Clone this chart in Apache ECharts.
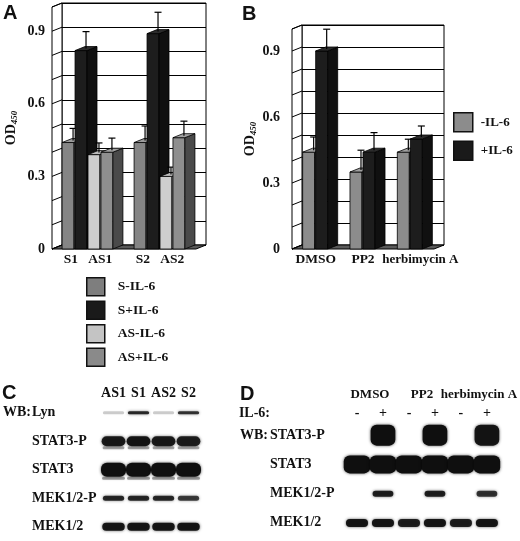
<!DOCTYPE html>
<html><head><meta charset="utf-8">
<script src="https://cdn.jsdelivr.net/npm/echarts@6/dist/echarts.min.js"></script>
<style>html,body{margin:0;padding:0;background:#fff}#c{width:520px;height:541px}</style>
</head><body><div id="c"></div>
<script>
// ---------- Panel A data ----------
const groupsA = ['1', '2'];
const groupLabelsA = [['S1', 'AS1'], ['S2', 'AS2']];
const seriesNamesA = ['S-IL-6', 'S+IL-6', 'AS-IL-6', 'AS+IL-6'];
const sMinusA = [0.44, 0.44];
const sPlusA = [0.82, 0.89];
const asMinusA = [0.39, 0.30];
const asPlusA = [0.40, 0.46];
const sMinusErrA = [0.05, 0.06];
const sPlusErrA = [0.07, 0.08];
const asMinusErrA = [0.04, 0.03];
const asPlusErrA = [0.05, 0.06];
const yTickLabels = [0, 0.3, 0.6, 0.9];
const wallTicks = [0, 0.1, 0.2, 0.3, 0.4, 0.5, 0.6, 0.7, 0.8, 0.9, 1.0];

// ---------- Panel B data ----------
const treatmentsB = ['DMSO', 'PP2', 'herbimycin A'];
const seriesNamesB = ['-IL-6', '+IL-6'];
const minusB = [0.44, 0.35, 0.44];
const plusB = [0.90, 0.44, 0.50];
const minusErrB = [0.06, 0.09, 0.05];
const plusErrB = [0.09, 0.08, 0.05];

// ---------- Panel C data (band intensity 0..1) ----------
const lanesC = ['AS1', 'S1', 'AS2', 'S2'];
const rowsC = ['Lyn', 'STAT3-P', 'STAT3', 'MEK1/2-P', 'MEK1/2'];
const lynC = [0.2, 0.85, 0.2, 0.8];
const stat3pC = [0.92, 0.95, 0.92, 0.9];
const stat3C = [1, 1, 1, 1];
const mekpC = [0.85, 0.85, 0.85, 0.75];
const mekC = [0.95, 0.95, 0.95, 0.95];

// ---------- Panel D data ----------
const treatmentsD = ['DMSO', 'PP2', 'herbimycin A'];
const il6SignsD = ['-', '+', '-', '+', '-', '+'];
const rowsD = ['STAT3-P', 'STAT3', 'MEK1/2-P', 'MEK1/2'];
const stat3pD = [0, 1, 0, 1, 0, 0.95];
const stat3D = [1, 1, 1, 1, 1, 1];
const mekpD = [0, 0.9, 0, 0.9, 0, 0.8];
const mekD = [0.95, 0.95, 0.9, 0.95, 0.9, 0.95];

// ---------- styles ----------
const SERIF = 'Liberation Serif', SANS = 'Liberation Sans';
const DX = 10, DY = 4;
const T = (size, extra) => Object.assign({fontFamily: SERIF, fontWeight: 'bold', fontSize: size, color: '#111'}, extra || {});
const colorsA = [
  {front: '#858585', side: '#555555', top: '#9c9c9c', legend: '#7e7e7e'},
  {front: '#1d1d1d', side: '#101010', top: '#2c2c2c', legend: '#1a1a1a'},
  {front: '#cecece', side: '#9a9a9a', top: '#bcbcbc', legend: '#c4c4c4'},
  {front: '#8f8f8f', side: '#4a4a4a', top: '#a2a2a2', legend: '#8a8a8a'}
];
const colorsB = [
  {front: '#8c8c8c', side: '#555555', top: '#a0a0a0', legend: '#8c8c8c'},
  {front: '#1d1d1d', side: '#101010', top: '#2c2c2c', legend: '#1a1a1a'}
];
const bandStyleC = {h: [3, 10, 14, 5, 8], w: [0.85, 0.95, 1.0, 0.85, 0.9], sub: [0, 1, 1, 0, 0]};
const bandStyleD = {h: [21, 18, 6, 8], w: [0.95, 1.02, 0.8, 0.85], sub: [0, 0, 0, 0]};

function wallRender(params, api) {
  const cs = params.coordSys;
  const y = api.coord([0, api.value(1)])[1];
  const x0 = cs.x;
  const ch = [];
  if (params.dataIndex === 0) {
    const yt = cs.y, yb = cs.y + cs.height, xr = cs.x + cs.width;
    ch.push({type: 'polygon', shape: {points: [[x0, yt], [x0 + DX, yt - DY], [x0 + DX, yb - DY], [x0, yb]]},
      style: {fill: '#fff', stroke: '#000', lineWidth: 1}});
    ch.push({type: 'polygon', shape: {points: [[x0, yb], [xr, yb], [xr + DX, yb - DY], [x0 + DX, yb - DY]]},
      style: {fill: '#5a5a5a', stroke: '#000', lineWidth: 1}});
  }
  ch.push({type: 'line', shape: {x1: x0, y1: y, x2: x0 + DX, y2: y - DY}, style: {stroke: '#000', lineWidth: 1}});
  return {type: 'group', children: ch};
}

function barRender(k, n, slotFrac, col) {
  return function (params, api) {
    const cat = api.value(0), val = api.value(1), err = api.value(2);
    const base = api.coord([cat, 0]);
    const top = api.coord([cat, val]);
    const ey = api.coord([cat, val + err])[1] - DY / 2;
    const band = api.size([1, 0])[0];
    const slot = band * slotFrac;
    const w = slot - 1;
    const x = base[0] - n * slot / 2 + k * slot;
    const y0 = base[1], y1 = top[1];
    const cx = x + w / 2 + DX / 2, cy = y1 - DY / 2;
    const st = {stroke: '#000', lineWidth: 0.8};
    return {type: 'group', children: [
      {type: 'rect', shape: {x: x, y: y1, width: w, height: y0 - y1}, style: Object.assign({fill: col.front}, st)},
      {type: 'polygon', shape: {points: [[x + w, y1], [x + w + DX, y1 - DY], [x + w + DX, y0 - DY], [x + w, y0]]}, style: Object.assign({fill: col.side}, st)},
      {type: 'polygon', shape: {points: [[x, y1], [x + DX, y1 - DY], [x + w + DX, y1 - DY], [x + w, y1]]}, style: Object.assign({fill: col.top}, st)},
      {type: 'line', shape: {x1: cx, y1: cy, x2: cx, y2: ey}, style: {stroke: '#000', lineWidth: 1.2}},
      {type: 'line', shape: {x1: cx - 3.5, y1: ey, x2: cx + 3.5, y2: ey}, style: {stroke: '#000', lineWidth: 1.2}}
    ]};
  };
}

function bandRender(bs) {
  return function (params, api) {
    const lane = api.value(0), row = api.value(1), a = api.value(2);
    if (!(a > 0)) return null;
    const c = api.coord([lane, row]);
    const bw = api.size([1, 0])[0] * bs.w[row];
    const h = bs.h[row];
    const ch = [{
      type: 'rect',
      shape: {x: c[0] - bw / 2, y: c[1] - h / 2, width: bw, height: h, r: Math.min(h / 2, 6)},
      style: {fill: 'rgba(15,15,15,' + a + ')', shadowBlur: 3, shadowColor: 'rgba(0,0,0,' + (a * 0.7) + ')'}
    }];
    if (bs.sub[row]) {
      ch.push({type: 'rect', shape: {x: c[0] - bw / 2 + 1, y: c[1] + h / 2, width: bw - 2, height: 3, r: 1.5},
        style: {fill: 'rgba(60,60,60,' + (a * 0.45) + ')', shadowBlur: 2, shadowColor: 'rgba(0,0,0,0.3)'}});
    }
    return {type: 'group', children: ch};
  };
}

// ---------- build series ----------
const valsA = [sMinusA, sPlusA, asMinusA, asPlusA];
const errsA = [sMinusErrA, sPlusErrA, asMinusErrA, asPlusErrA];
const valsB = [minusB, plusB];
const errsB = [minusErrB, plusErrB];

const series = [];
series.push({type: 'custom', xAxisIndex: 0, yAxisIndex: 0, renderItem: wallRender, silent: true,
  data: wallTicks.map(v => [0, v]), encode: {x: 0, y: 1}});
seriesNamesA.forEach((name, k) => {
  series.push({type: 'custom', name: name, xAxisIndex: 0, yAxisIndex: 0,
    renderItem: barRender(k, 4, 0.18, colorsA[k]), itemStyle: {color: colorsA[k].legend},
    data: valsA[k].map((v, i) => [i, v, errsA[k][i]]), encode: {x: 0, y: 1}});
});
series.push({type: 'custom', xAxisIndex: 2, yAxisIndex: 2, renderItem: wallRender, silent: true,
  data: wallTicks.map(v => [0, v]), encode: {x: 0, y: 1}});
seriesNamesB.forEach((name, k) => {
  series.push({type: 'custom', name: name, xAxisIndex: 2, yAxisIndex: 2,
    renderItem: barRender(k, 2, 0.275, colorsB[k]), itemStyle: {color: colorsB[k].legend},
    data: valsB[k].map((v, i) => [i, v, errsB[k][i]]), encode: {x: 0, y: 1}});
});
const rowValsC = [lynC, stat3pC, stat3C, mekpC, mekC];
const bandsC = [];
rowValsC.forEach((arr, r) => arr.forEach((a, l) => bandsC.push([l, r, a])));
series.push({type: 'custom', xAxisIndex: 4, yAxisIndex: 4, renderItem: bandRender(bandStyleC), data: bandsC, encode: {x: 0, y: 1}});
const rowValsD = [stat3pD, stat3D, mekpD, mekD];
const bandsD = [];
rowValsD.forEach((arr, r) => arr.forEach((a, l) => bandsD.push([l, r, a])));
series.push({type: 'custom', xAxisIndex: 5, yAxisIndex: 5, renderItem: bandRender(bandStyleD), data: bandsD, encode: {x: 0, y: 1}});

const odName = {
  name: '{a|OD}{b|450}', nameLocation: 'middle', nameRotate: 90, nameGap: 33,
  nameTextStyle: {rich: {
    a: T(14, {lineHeight: 16}),
    b: T(9, {fontStyle: 'italic', verticalAlign: 'bottom', lineHeight: 10})
  }}
};
const tickFmt = v => yTickLabels.some(t => Math.abs(t - v) < 1e-6) ? (v === 0 ? '0' : v.toFixed(1)) : '';
const frontY = (gi, margin, shift) => Object.assign({
  gridIndex: gi, type: 'value', min: 0, max: 1, interval: 0.1,
  axisLine: {show: true, lineStyle: {color: '#000', width: 1}}, axisTick: {show: false}, splitLine: {show: false},
  axisLabel: Object.assign(T(14), {margin: margin, formatter: tickFmt, padding: [shift, 0, 0, 0]})
}, odName);
const backY = gi => ({
  gridIndex: gi, type: 'value', min: 0, max: 1, interval: 0.1,
  axisLine: {show: false}, axisTick: {show: false}, axisLabel: {show: false},
  splitLine: {show: true, lineStyle: {color: '#000', width: 1}}
});
const rowLabel = (margin, prefW) => ({
  gridIndex: 0, type: 'category', inverse: true,
  axisLine: {show: false}, axisTick: {show: false}, splitLine: {show: false},
  axisLabel: {margin: margin, align: 'left',
    formatter: (v, i) => '{p|' + (i === 0 ? 'WB:' : ' ') + '}{n|' + v + '}',
    rich: {p: T(14, {width: prefW}), n: T(14)}}
});
const yC = Object.assign(rowLabel(98, 29), {gridIndex: 4, data: rowsC});
const yD = Object.assign(rowLabel(104, 30), {gridIndex: 5, data: rowsD});

const backGrid = {show: true, backgroundColor: '#fff', borderColor: '#000', borderWidth: 1};
const option = {
  animation: false,
  backgroundColor: '#fff',
  title: [
    {text: 'A', left: 3, top: 3, padding: 0, textStyle: {fontFamily: SANS, fontWeight: 'bold', fontSize: 20, color: '#111'}},
    {text: 'B', left: 242, top: 4, padding: 0, textStyle: {fontFamily: SANS, fontWeight: 'bold', fontSize: 20, color: '#111'}},
    {text: 'C', left: 2, top: 383, padding: 0, textStyle: {fontFamily: SANS, fontWeight: 'bold', fontSize: 20, color: '#111'}},
    {text: 'D', left: 240, top: 384, padding: 0, textStyle: {fontFamily: SANS, fontWeight: 'bold', fontSize: 20, color: '#111'}}
  ],
  legend: [
    {data: seriesNamesA, orient: 'vertical', left: 81, top: 272, itemWidth: 18, itemHeight: 18, itemGap: 4,
      icon: 'rect', selectedMode: false, itemStyle: {borderColor: '#111', borderWidth: 1.5},
      textStyle: T(13.5, {padding: [0, 0, 0, 8]})},
    {data: seriesNamesB, orient: 'vertical', left: 453, top: 112, itemWidth: 19, itemHeight: 19, itemGap: 8,
      icon: 'rect', selectedMode: false, itemStyle: {borderColor: '#111', borderWidth: 1.5},
      padding: 0, textStyle: T(13, {padding: [0, 0, 0, 3]})}
  ],
  grid: [
    {left: 52, top: 7, width: 144, height: 242},
    Object.assign({left: 62, top: 3, width: 144, height: 242}, backGrid),
    {left: 292, top: 29, width: 142, height: 220},
    Object.assign({left: 302, top: 25, width: 142, height: 220}, backGrid),
    {left: 98, top: 398.5, width: 103, height: 148.5},
    {left: 344, top: 420.5, width: 156, height: 117}
  ],
  xAxis: [
    {gridIndex: 0, type: 'category', data: groupsA, axisLine: {show: false}, axisTick: {show: false},
      axisLabel: Object.assign(T(13.5), {margin: 4, interval: 0, formatter: (v, i) => groupLabelsA[i].join('   ')})},
    {gridIndex: 1, type: 'category', data: groupsA, show: false},
    {gridIndex: 2, type: 'category', data: treatmentsB, axisLine: {show: false}, axisTick: {show: false},
      axisLabel: Object.assign(T(13.5), {margin: 4, interval: 0,
        formatter: v => v.length > 8 ? '{w|' + v + '}' : v,
        rich: {w: T(13, {padding: [0, 0, 0, 20]})}})},
    {gridIndex: 3, type: 'category', data: treatmentsB, show: false},
    {gridIndex: 4, type: 'category', data: lanesC, position: 'top', axisLine: {show: false}, axisTick: {show: false},
      axisLabel: Object.assign(T(14), {margin: -2, interval: 0})},
    {gridIndex: 5, type: 'category', data: il6SignsD.map((s, i) => 'lane' + i), position: 'top',
      axisLine: {show: false}, axisTick: {show: false},
      axisLabel: Object.assign(T(14), {margin: 0, interval: 0, formatter: (v, i) => il6SignsD[i]}),
      name: 'IL-6:', nameLocation: 'start', nameGap: 74, nameTextStyle: T(14, {verticalAlign: 'bottom', align: 'right'})},
    {gridIndex: 5, type: 'category', data: treatmentsD, position: 'top', offset: 19,
      axisLine: {show: false}, axisTick: {show: false},
      axisLabel: Object.assign(T(13), {margin: 0, interval: 0,
        formatter: v => v.length > 8 ? '{w|' + v + '}' : v,
        rich: {w: T(13, {padding: [0, 0, 0, 10]})}})}
  ],
  yAxis: [
    frontY(0, 7, 6),
    backY(1),
    frontY(2, 12, 8),
    backY(3),
    yC,
    yD
  ],
  series: series
};
const chart = echarts.init(document.getElementById('c'));
chart.setOption(option);
</script>
</body></html>
